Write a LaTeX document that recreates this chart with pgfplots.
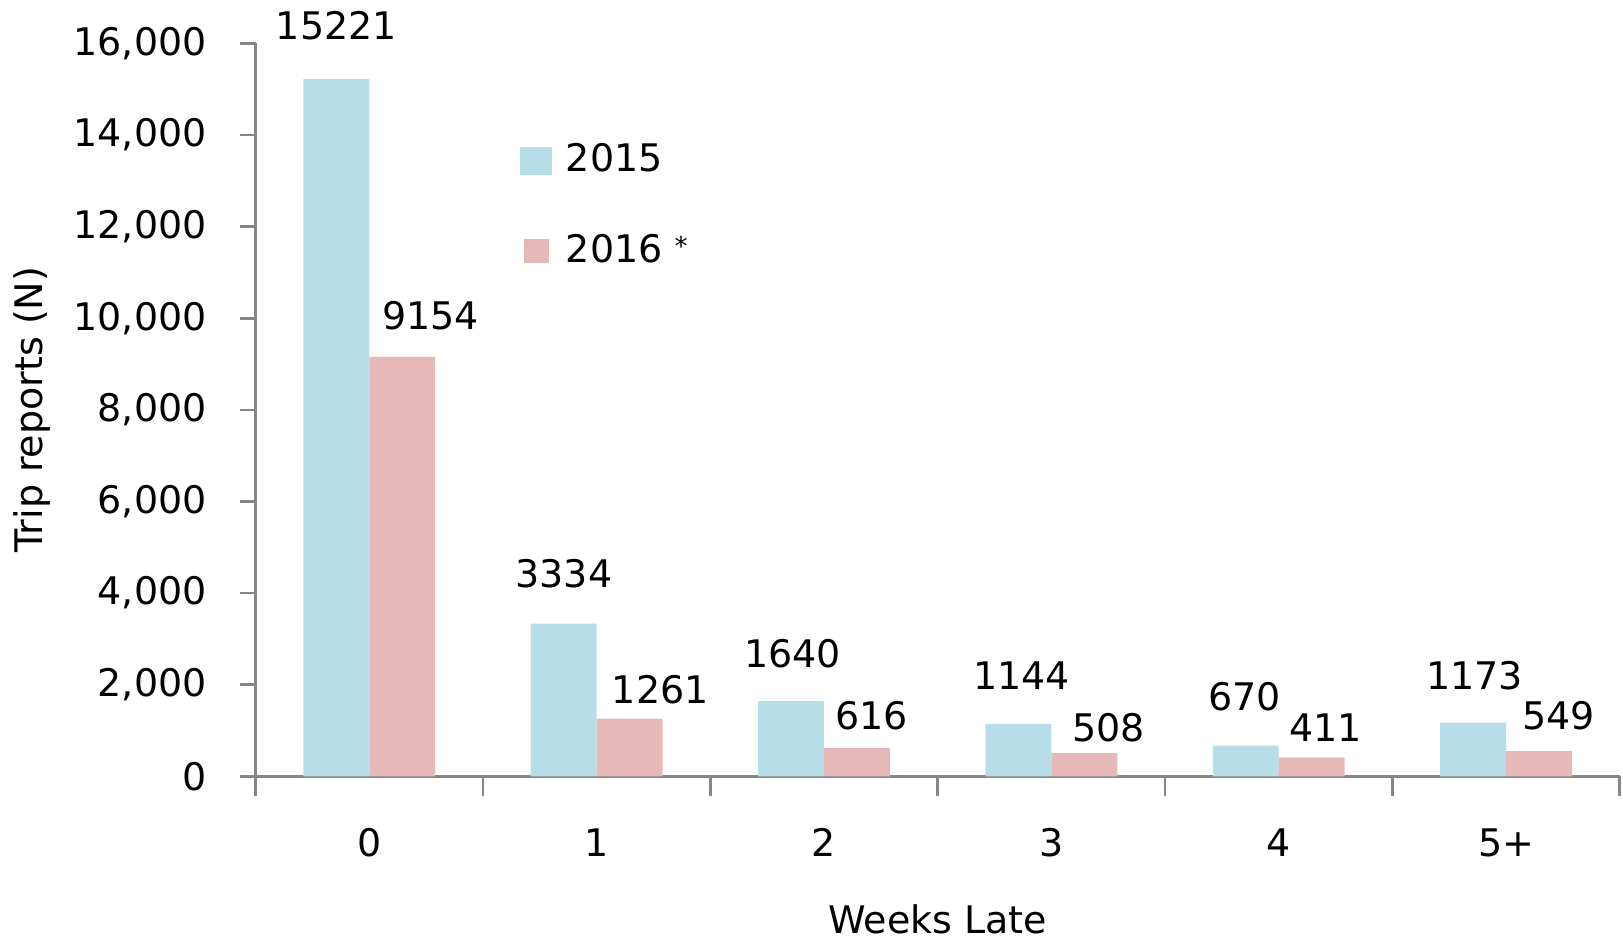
\documentclass[border=0pt]{standalone}
\usepackage{fontspec}
\setmainfont{DejaVu Sans}
\usepackage{pgfplots}
\pgfplotsset{compat=1.18}
\definecolor{cblue}{HTML}{B7DEE8}
\definecolor{cpink}{HTML}{E6B9B8}
\definecolor{axgray}{HTML}{868686}
\begin{document}
\fontsize{19bp}{23bp}\selectfont
\begin{tikzpicture}
\useasboundingbox (-127.8bp,-81.8bp) rectangle (683.8bp,388.2bp);
\begin{axis}[
  at={(0,0)}, anchor=south west,
  scale only axis, width=682.2bp, height=366.5bp,
  xmin=-0.5, xmax=5.5, ymin=0, ymax=16000,
  clip=false,
  axis x line=bottom, axis y line=left,
  axis line style={-, draw=axgray, line width=1.3bp},
  every tick/.style={draw=axgray, line width=1.3bp},
  tick align=outside,
  major tick length=8bp,
  minor tick length=10bp,
  xtick={0,...,5}, xticklabels={0,1,2,3,4,5+},
  minor xtick={-0.5,0.5,...,5.5},
  major x tick style={draw=none},
  ytick={0,2000,...,16000},
  scaled y ticks=false,
  /pgf/number format/assume math mode=true,
  /pgf/number format/1000 sep={,},
  xticklabel style={anchor=north, inner sep=0pt, yshift=-18bp},
  yticklabel style={anchor=east, inner sep=0pt, xshift=-16.3bp},
  xlabel={Weeks Late},
  ylabel={Trip reports (N)},
  every axis x label/.style={at={(axis description cs:0.5,0)}, anchor=center, yshift=-71.4bp},
  every axis y label/.style={at={(axis description cs:0,0.5)}, xshift=-111.8bp, anchor=center, rotate=90},
  legend style={draw=none, fill=none, at={(axis description cs:0.1935,0.869)}, anchor=north west, inner sep=0pt, row sep=24.3bp, column sep=5bp},
  legend cell align=left,
]
\addplot[ybar, bar width=0.29, bar shift=-0.145, fill=cblue, draw=none,
  legend image code/.code={\fill[cblue] (0bp,-7bp) rectangle (16bp,7bp);}]
  coordinates {(0,15221) (1,3334) (2,1640) (3,1144) (4,670) (5,1173)};
\addlegendentry{2015}
\addplot[ybar, bar width=0.29, bar shift=0.145, fill=cpink, draw=none,
  legend image code/.code={\path (0bp,0bp) -- (16bp,0bp); \fill[cpink] (2bp,-6bp) rectangle (14.4bp,6bp);}]
  coordinates {(0,9154) (1,1261) (2,616) (3,508) (4,411) (5,549)};
\addlegendentry{2016 \raisebox{3.5bp}{\fontsize{13bp}{13bp}\selectfont *}}
\addplot[forget plot, only marks, mark=none, nodes near coords, point meta=explicit symbolic,
  every node near coord/.append style={anchor=base, inner sep=0pt, text=black}]
  table[meta=lab] {
x y lab
-0.145 16091 15221
0.269 9763 9154
0.856 4113 3334
1.280 1582 1261
1.862 2373 1640
2.208 1017 616
2.868 1898 1144
3.251 768 508
3.851 1446 670
4.206 768 411
4.862 1898 1173
5.231 1017 549
};
\end{axis}
\end{tikzpicture}
\end{document}
